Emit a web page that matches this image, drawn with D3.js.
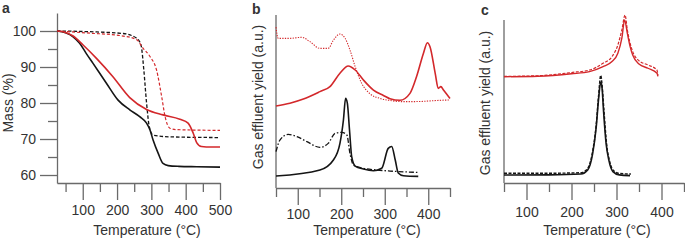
<!DOCTYPE html>
<html>
<head>
<meta charset="utf-8">
<script src="https://cdn.jsdelivr.net/npm/d3@7"></script>
<style>
  body { margin: 0; background: #fff; }
  svg { display: block; }
  text { font-family: "Liberation Sans", Arial, Helvetica, sans-serif; fill: #333; }
</style>
</head>
<body>
<div id="chart"></div>
<script>
"use strict";
let width = 685;
let height = 242;
let red = "#d3282b";
let black = "#151515";

// Panel a: thermogravimetric mass loss
let aBlackT = [25, 50, 72, 91, 110, 130, 169, 203, 237, 266, 286, 296, 305, 320, 334, 349, 380, 432, 500];
let aBlackMass = [100, 99.5, 98.4, 96.6, 93.8, 91, 85.5, 80.8, 78.1, 76.2, 74.4, 72.5, 69.7, 66, 63.2, 62.6, 62.4, 62.3, 62.2];
let aRedT = [25, 50, 72, 101, 140, 188, 237, 286, 334, 383, 407, 422, 432, 446, 460, 500];
let aRedMass = [100, 99.6, 98.6, 96.1, 92.4, 87.3, 81.5, 78.2, 76.7, 75.5, 74.4, 71.6, 69, 67.9, 67.8, 67.8];
let aBlackDashT = [25, 121, 218, 257, 266, 271, 278, 286, 294, 305, 354, 500];
let aBlackDashMass = [100, 99.8, 99.3, 98, 97, 95.6, 89.2, 80, 73.4, 71.1, 70.6, 70.4];
let aRedDashT = [25, 121, 218, 257, 276, 296, 315, 330, 340, 354, 374, 500];
let aRedDashMass = [100, 99.4, 98.6, 97.6, 95.2, 92.9, 89.2, 81.8, 76.2, 73, 72.6, 72.4];
let aMajorX = [100, 200, 300, 400, 500];
let aMinorX = [50, 150, 250, 350, 450];
let aMajorY = [60, 70, 80, 90, 100];
let aMinorY = [65, 75, 85, 95];

// Panel b: gas effluent yield (a.u.)
let bRedDotT = [50, 55, 82, 109, 128, 151, 170, 182, 197, 209, 220, 232, 247, 266, 289, 312, 342, 380, 420, 450];
let bRedDotY = [93, 86.5, 86.5, 87.1, 84.6, 80.7, 80.7, 85.5, 89, 86.5, 79.8, 70.1, 60.5, 54.5, 51.8, 50.6, 49.9, 50, 50.6, 50.9];
let bRedT = [50, 82, 113, 151, 174, 197, 216, 232, 251, 274, 297, 312, 335, 358, 373, 389, 398, 404, 416, 423, 429, 435, 450];
let bRedY = [47.4, 49, 51.4, 55.7, 58.6, 66.3, 70.5, 68.2, 62.4, 56.6, 53.5, 51.6, 50.7, 54.7, 64.3, 77.9, 84, 81.7, 66.3, 57.6, 58.6, 56.6, 51.8];
let bBlackT = [50, 151, 182, 197, 205, 210, 214, 219, 224, 232, 251, 274, 293, 308, 316, 324, 331, 343, 377];
let bBlackY = [6.9, 10.4, 16.2, 25.8, 39.3, 51.8, 49, 33.5, 18.1, 12.7, 11, 10, 11.4, 22.9, 24, 16.3, 8.7, 7.1, 6.7];
let bDashDotT = [50, 59, 78, 98, 121, 151, 170, 186, 201, 213, 220, 228, 251, 282, 312, 377];
let bDashDotY = [21, 27.7, 31, 29.7, 26.8, 23.5, 25.8, 31.6, 32.2, 30.6, 20, 13.3, 11.4, 10.4, 9.8, 9];
let bMajorX = [100, 200, 300, 400];
let bMinorX = [50, 150, 250, 350, 450];

// Panel c: gas effluent yield (a.u.)
let cRedT = [50, 125, 200, 240, 270, 290, 303, 312, 318, 324, 330, 336, 350, 370, 390, 392];
let cRedY = [65.2, 65.5, 67, 68.3, 71.4, 74.5, 79.6, 89, 100, 92, 84, 78.5, 73, 70.4, 67.3, 65.4];
let cRedDashT = [50, 125, 200, 240, 270, 290, 303, 312, 319, 324, 330, 336, 350, 370, 390, 392];
let cRedDashY = [65.4, 65.8, 67.8, 69.3, 73.4, 77.5, 84.7, 94, 103, 94, 86, 80.6, 75, 72.4, 69.3, 66];
let cBlackT = [50, 150, 221, 236, 247, 255, 260, 265, 268, 271, 277, 283, 292, 306, 330];
let cBlackY = [4.9, 5, 5.5, 8, 18, 34.5, 51, 62, 58, 45, 24, 14, 7, 5, 4.5];
let cBlackDashT = [50, 150, 221, 236, 247, 255, 260, 265, 268, 272, 278, 285, 294, 308, 332];
let cBlackDashY = [6, 6, 6.3, 9, 19.5, 36, 53, 66, 60, 45, 24, 13, 7.5, 5.8, 5.5];
let cMajorX = [100, 200, 300, 400];
let cMinorX = [50, 150, 250, 350, 450];

let svg = d3.select("#chart")
            .append("svg")
            .attr("width", width)
            .attr("height", height);

// Scales for the three panels
let aX = d3.scaleLinear().domain([25, 500]).range([57, 220]);
let aY = d3.scaleLinear().domain([57.78, 105]).range([183, 13]);
let bX = d3.scaleLinear().domain([50, 450]).range([276, 450]);
let bY = d3.scaleLinear().domain([0, 100]).range([188, 15]);
let cX = d3.scaleLinear().domain([50, 450]).range([504, 684]);
let cY = d3.scaleLinear().domain([0, 100]).range([183, 20]);

// x axis with long labelled ticks and short unlabelled ones
function xAxis(scale, y, major, minor, pad) {
    let g = svg.append("g")
            .attr("class", "axis")
            .attr("transform", "translate(0," + y + ")")
            .call(d3.axisBottom(scale).tickValues(major).tickSize(17).tickSizeOuter(0).tickPadding(pad));
    svg.append("g")
            .attr("class", "axis")
            .attr("transform", "translate(0," + y + ")")
            .call(d3.axisBottom(scale).tickValues(minor).tickSize(9).tickFormat(""))
            .select(".domain").remove();
    return g;
}

function yLine(x, y0, y1) {
    svg.append("line")
            .attr("class", "axisline")
            .attr("x1", x).attr("x2", x)
            .attr("y1", y0).attr("y2", y1);
}

xAxis(aX, 183, aMajorX, aMinorX, 5);
xAxis(bX, 188, bMajorX, bMinorX, 4);
xAxis(cX, 183, cMajorX, cMinorX, 7);

svg.append("g")
        .attr("class", "axis")
        .attr("transform", "translate(57,0)")
        .call(d3.axisLeft(aY).tickValues(aMajorY).tickSize(17).tickSizeOuter(0).tickPadding(4));
svg.append("g")
        .attr("class", "axis")
        .attr("transform", "translate(57,0)")
        .call(d3.axisLeft(aY).tickValues(aMinorY).tickSize(9).tickFormat(""))
        .select(".domain").remove();

yLine(bX.range()[0], 15, 188);
yLine(cX.range()[0], 20, 183);

svg.selectAll(".axis path, .axis line, .axisline")
        .attr("stroke", "#6a6a6a")
        .attr("stroke-width", 1.3);
svg.selectAll(".axis text")
        .style("font-size", "14px")
        .attr("fill", "#333");

// Curves
function curve(xs, ys, T, V, colour, dash, w) {
    let line = d3.line()
            .x(function(d) { return xs(d[0]); })
            .y(function(d) { return ys(d[1]); })
            .curve(d3.curveMonotoneX);
    svg.append("path")
            .datum(d3.zip(T, V))
            .attr("d", line)
            .attr("fill", "none")
            .attr("stroke", colour)
            .attr("stroke-width", w)
            .attr("stroke-dasharray", dash)
            .attr("stroke-linejoin", "round");
}

curve(aX, aY, aBlackDashT, aBlackDashMass, black, "3.5,2", 1.3);
curve(aX, aY, aRedDashT, aRedDashMass, red, "3,2", 1.2);
curve(aX, aY, aBlackT, aBlackMass, black, null, 1.6);
curve(aX, aY, aRedT, aRedMass, red, null, 1.6);

curve(bX, bY, bRedDotT, bRedDotY, red, "1.3,1.3", 1.1);
curve(bX, bY, bRedT, bRedY, red, null, 1.6);
curve(bX, bY, bDashDotT, bDashDotY, black, "5,2,1.5,2", 1.3);
curve(bX, bY, bBlackT, bBlackY, black, null, 1.6);

curve(cX, cY, cRedDashT, cRedDashY, red, "3,1.5", 1.2);
curve(cX, cY, cRedT, cRedY, red, null, 1.4);
curve(cX, cY, cBlackDashT, cBlackDashY, black, "3,1.5", 1.4);
curve(cX, cY, cBlackT, cBlackY, black, null, 1.6);

// Axis titles
function title(x, y, txt, rotate) {
    svg.append("text")
            .attr("transform", "translate(" + x + "," + y + ")" + (rotate ? " rotate(-90)" : ""))
            .attr("text-anchor", "middle")
            .style("font-size", "14px")
            .text(txt);
}
title(147, 235, "Temperature (°C)", false);
title(367, 235, "Temperature (°C)", false);
title(597, 235, "Temperature (°C)", false);
title(13, 103, "Mass (%)", true);
title(263, 97, "Gas effluent yield (a.u.)", true);
title(490, 103, "Gas effluent yield (a.u.)", true);

// Panel letters
let letters = [["a", 2, 13], ["b", 252, 14], ["c", 481, 15]];
letters.forEach(function(l) {
    svg.append("text")
            .attr("x", l[1])
            .attr("y", l[2])
            .style("font-size", "14px")
            .style("font-weight", "bold")
            .attr("fill", "#111")
            .text(l[0]);
});
</script>
</body>
</html>
